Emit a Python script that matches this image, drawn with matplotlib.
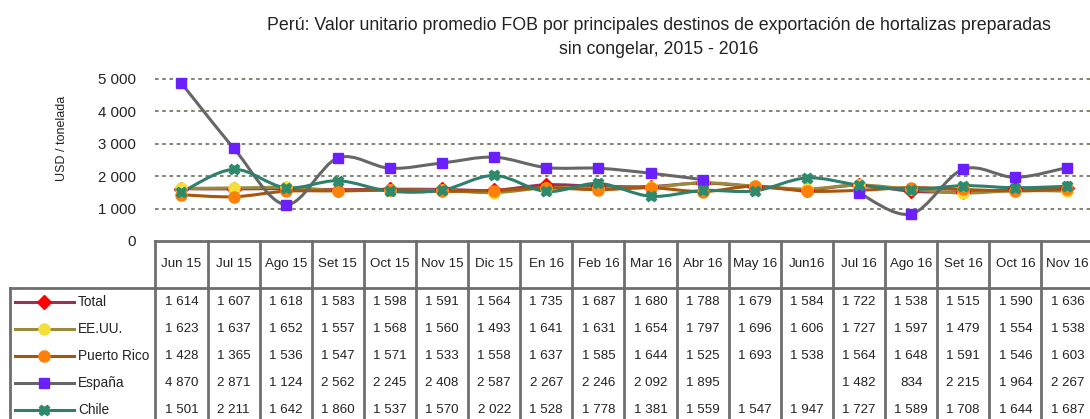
import matplotlib
matplotlib.use('Agg')
import matplotlib.pyplot as plt
import matplotlib.transforms as mtransforms
from matplotlib.path import Path
from matplotlib.patches import PathPatch
from matplotlib.lines import Line2D

plt.rcParams['font.family'] = ['Liberation Sans', 'DejaVu Sans']

# Datos
meses = ['Jun 15', 'Jul 15', 'Ago 15', 'Set 15', 'Oct 15', 'Nov 15', 'Dic 15', 'En 16', 'Feb 16',
         'Mar 16', 'Abr 16', 'May 16', 'Jun16', 'Jul 16', 'Ago 16', 'Set 16', 'Oct 16', 'Nov 16']
total = [1614, 1607, 1618, 1583, 1598, 1591, 1564, 1735, 1687, 1680, 1788, 1679, 1584, 1722, 1538, 1515, 1590, 1636]
eeuu = [1623, 1637, 1652, 1557, 1568, 1560, 1493, 1641, 1631, 1654, 1797, 1696, 1606, 1727, 1597, 1479, 1554, 1538]
puerto_rico = [1428, 1365, 1536, 1547, 1571, 1533, 1558, 1637, 1585, 1644, 1525, 1693, 1538, 1564, 1648, 1591, 1546, 1603]
espana = [4870, 2871, 1124, 2562, 2245, 2408, 2587, 2267, 2246, 2092, 1895, None, None, 1482, 834, 2215, 1964, 2267]
chile = [1501, 2211, 1642, 1860, 1537, 1570, 2022, 1528, 1778, 1381, 1559, 1547, 1947, 1727, 1589, 1708, 1644, 1687]

series = [
    ('Total', total, '#993355', 'D', '#ff0000', 7.5),
    ('EE.UU.', eeuu, '#9c8a3c', 'o', '#f2df3a', 8),
    ('Puerto Rico', puerto_rico, '#a8560c', 'o', '#ff8008', 8),
    ('España', espana, '#666666', 's', '#6b1fff', 6.5),
    ('Chile', chile, '#2f7f6d', 'X', '#2e8a6c', 7.5),
]

W, H = 1090, 419


def fx(px):
    return px / W


def fy(py):
    return 1 - py / H


def fmt(v):
    return '' if v is None else '{:,}'.format(v).replace(',', ' ')


def smooth_patch(xs, ys, color):
    # curva suavizada (Bezier) pasando por los puntos
    n = len(xs)
    verts = [(xs[0], ys[0])]
    codes = [Path.MOVETO]
    for i in range(n - 1):
        p0 = (xs[i - 1], ys[i - 1]) if i > 0 else (xs[i], ys[i])
        p1 = (xs[i], ys[i])
        p2 = (xs[i + 1], ys[i + 1])
        p3 = (xs[i + 2], ys[i + 2]) if i + 2 < n else p2
        c1 = (p1[0] + (p2[0] - p0[0]) / 6, p1[1] + (p2[1] - p0[1]) / 6)
        c2 = (p2[0] - (p3[0] - p1[0]) / 6, p2[1] - (p3[1] - p1[1]) / 6)
        verts += [c1, c2, p2]
        codes += [Path.CURVE4] * 3
    return PathPatch(Path(verts, codes), fill=False, edgecolor=color, lw=2.2,
                     capstyle='round', joinstyle='round')


fig = plt.figure(figsize=(W / 100, H / 100), dpi=100)
ymax = 5100
top_px = 241 - (241 - 79) * ymax / 5000
ax = fig.add_axes([fx(155.4), fy(241), (1093.5 - 155.4) / W, (241 - top_px) / H])
ax.set_xlim(-0.5, len(meses) - 0.5)
ax.set_ylim(0, ymax)

for s in ax.spines.values():
    s.set_visible(False)
ax.set_xticks([])
ax.set_yticks([0, 1000, 2000, 3000, 4000, 5000])
ax.set_yticklabels([fmt(v) for v in [0, 1000, 2000, 3000, 4000, 5000]], fontsize=10.8, color='#222222')
ax.tick_params(axis='y', length=0, pad=14)
for v in [1000, 2000, 3000, 4000, 5000]:
    ax.axhline(v, color='#7a7a66', lw=1.3, linestyle=(0, (2, 2)), zorder=1)

for name, vals, lc, mk, mc, ms in series:
    seg_x, seg_y = [], []
    for i, v in enumerate(vals + [None]):
        if v is None:
            if len(seg_x) > 1:
                ax.add_patch(smooth_patch(seg_x, seg_y, lc))
            seg_x, seg_y = [], []
        else:
            seg_x.append(i)
            seg_y.append(v)
    xs = [i for i, v in enumerate(vals) if v is not None]
    ys = [v for v in vals if v is not None]
    ax.plot(xs, ys, linestyle='none', marker=mk, color=mc, markersize=ms,
            markeredgecolor=mc, zorder=5)

fig.text(fx(62), fy(138), 'USD / tonelada', rotation=90, ha='center', va='center', fontsize=9, color='#222222')
fig.text(fx(659), fy(25), 'Perú: Valor unitario promedio FOB por principales destinos de exportación de hortalizas preparadas',
         ha='center', va='center', fontsize=12.8, color='#222222')
fig.text(fx(659), fy(50), 'sin congelar, 2015 - 2016', ha='center', va='center', fontsize=12.8, color='#222222')

# Tabla de datos
tr = mtransforms.blended_transform_factory(ax.transData, fig.transFigure)
gris = '#6e6e6e'
n = len(meses)
for k in range(n + 1):
    ax.add_line(Line2D([k - 0.5, k - 0.5], [fy(241), 0], transform=tr, color=gris, lw=2, clip_on=False))
ax.add_line(Line2D([-0.5, n - 0.5], [fy(241), fy(241)], transform=tr, color=gris, lw=2, clip_on=False))
fig.add_artist(Line2D([fx(9.5), 1], [fy(288), fy(288)], color=gris, lw=2))
fig.add_artist(Line2D([fx(9.5), fx(9.5)], [fy(288), 0], color=gris, lw=2))

for k, m in enumerate(meses):
    ax.text(k, fy(264), m, transform=tr, ha='center', va='center', fontsize=9.6, clip_on=False, color='#222222')

row_y = [302, 329, 356, 383, 410]
for (name, vals, lc, mk, mc, ms), py in zip(series, row_y):
    fig.add_artist(Line2D([fx(15), fx(74)], [fy(py), fy(py)], color=lc, lw=2.2))
    fig.add_artist(Line2D([fx(44)], [fy(py)], marker=mk, color=mc, markersize=ms,
                          markeredgecolor=mc, linestyle='none'))
    fig.text(fx(78), fy(py), name, ha='left', va='center', fontsize=9.8, color='#222222')
    for k, v in enumerate(vals):
        ax.text(k, fy(py), fmt(v), transform=tr, ha='center', va='center', fontsize=9.6,
                clip_on=False, color='#222222')

fig.savefig('out.png', dpi=100)
